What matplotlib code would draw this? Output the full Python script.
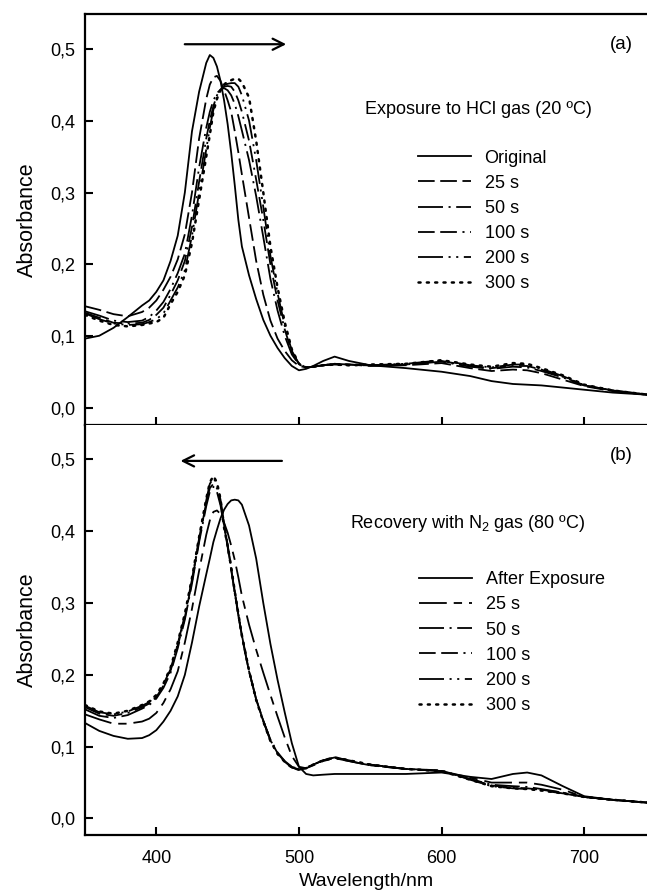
import matplotlib
matplotlib.use('Agg')
import matplotlib.pyplot as plt
from matplotlib.ticker import FuncFormatter

plt.rcParams['font.family'] = ['Liberation Sans', 'DejaVu Sans']
plt.rcParams['mathtext.fontset'] = 'custom'
plt.rcParams['mathtext.rm'] = 'Liberation Sans'
plt.rcParams['lines.scale_dashes'] = False

# wavelength grid (nm) shared by all spectra
wl = [350, 360, 370, 380, 390, 395, 400, 405, 410, 415,
      420, 425, 430, 435, 437.5, 440, 442.5, 445, 447.5, 450,
      452.5, 455, 457.5, 460, 465, 470, 475, 480, 485, 490,
      495, 500, 505, 510, 517, 525, 535, 550, 575, 600,
      620, 635, 650, 660, 670, 685, 700, 720, 745]

# (a) exposure to HCl
labels_a = ['Original', '25 s', '50 s', '100 s', '200 s', '300 s']
a_orig = [0.097, 0.101, 0.112, 0.127, 0.143, 0.150, 0.162, 0.178, 0.205, 0.240,
          0.300, 0.385, 0.440, 0.480, 0.491, 0.487, 0.475, 0.455, 0.428, 0.395,
          0.355, 0.310, 0.262, 0.225, 0.185, 0.152, 0.123, 0.101, 0.084, 0.070,
          0.059, 0.053, 0.055, 0.059, 0.066, 0.072, 0.066, 0.060, 0.056, 0.051,
          0.045, 0.038, 0.034, 0.033, 0.032, 0.029, 0.026, 0.022, 0.019]
a_25 = [0.142, 0.137, 0.131, 0.128, 0.134, 0.140, 0.150, 0.165, 0.183, 0.207,
        0.242, 0.300, 0.375, 0.430, 0.450, 0.460, 0.462, 0.455, 0.442, 0.428,
        0.412, 0.385, 0.356, 0.325, 0.265, 0.205, 0.158, 0.122, 0.097, 0.080,
        0.067, 0.059, 0.057, 0.058, 0.060, 0.062, 0.061, 0.059, 0.060, 0.063,
        0.056, 0.052, 0.054, 0.053, 0.049, 0.040, 0.031, 0.024, 0.019]
a_50 = [0.135, 0.129, 0.122, 0.120, 0.122, 0.127, 0.136, 0.148, 0.166, 0.188,
        0.215, 0.268, 0.335, 0.390, 0.412, 0.428, 0.438, 0.443, 0.445, 0.442,
        0.435, 0.423, 0.406, 0.386, 0.345, 0.295, 0.238, 0.180, 0.136, 0.101,
        0.075, 0.061, 0.057, 0.058, 0.060, 0.062, 0.061, 0.060, 0.061, 0.065,
        0.058, 0.055, 0.058, 0.057, 0.052, 0.043, 0.032, 0.025, 0.019]
a_100 = [0.133, 0.126, 0.119, 0.118, 0.119, 0.123, 0.130, 0.140, 0.158, 0.178,
         0.205, 0.252, 0.315, 0.375, 0.400, 0.420, 0.435, 0.443, 0.447, 0.448,
         0.447, 0.440, 0.428, 0.412, 0.372, 0.318, 0.262, 0.200, 0.150, 0.110,
         0.078, 0.062, 0.057, 0.058, 0.060, 0.062, 0.061, 0.060, 0.061, 0.066,
         0.059, 0.056, 0.059, 0.059, 0.054, 0.044, 0.032, 0.025, 0.019]
a_200 = [0.132, 0.124, 0.118, 0.116, 0.117, 0.120, 0.124, 0.132, 0.150, 0.168,
         0.192, 0.240, 0.300, 0.360, 0.390, 0.415, 0.432, 0.443, 0.449, 0.451,
         0.452, 0.452, 0.447, 0.435, 0.400, 0.345, 0.280, 0.212, 0.160, 0.115,
         0.080, 0.062, 0.057, 0.058, 0.060, 0.061, 0.060, 0.060, 0.062, 0.067,
         0.060, 0.057, 0.061, 0.061, 0.055, 0.045, 0.032, 0.025, 0.019]
a_300 = [0.130, 0.122, 0.116, 0.114, 0.116, 0.118, 0.120, 0.126, 0.145, 0.162,
         0.185, 0.230, 0.290, 0.350, 0.380, 0.412, 0.430, 0.442, 0.450, 0.454,
         0.456, 0.458, 0.458, 0.453, 0.432, 0.372, 0.300, 0.225, 0.168, 0.120,
         0.082, 0.062, 0.057, 0.058, 0.060, 0.061, 0.060, 0.061, 0.062, 0.067,
         0.061, 0.058, 0.063, 0.062, 0.056, 0.046, 0.033, 0.025, 0.019]

# (b) recovery with N2
labels_b = ['After Exposure', '25 s', '50 s', '100 s', '200 s', '300 s']
b_after = [0.133, 0.122, 0.115, 0.111, 0.112, 0.116, 0.123, 0.135, 0.150, 0.170,
           0.200, 0.245, 0.295, 0.340, 0.362, 0.385, 0.402, 0.418, 0.430, 0.438,
           0.443, 0.444, 0.443, 0.437, 0.408, 0.362, 0.300, 0.243, 0.193, 0.148,
           0.105, 0.072, 0.062, 0.060, 0.061, 0.062, 0.062, 0.062, 0.062, 0.064,
           0.058, 0.055, 0.062, 0.064, 0.060, 0.045, 0.031, 0.026, 0.022]
b_25 = [0.145, 0.138, 0.132, 0.132, 0.135, 0.139, 0.147, 0.161, 0.180, 0.205,
        0.245, 0.292, 0.345, 0.395, 0.415, 0.427, 0.429, 0.424, 0.412, 0.398,
        0.380, 0.360, 0.336, 0.310, 0.270, 0.235, 0.203, 0.172, 0.142, 0.113,
        0.087, 0.072, 0.070, 0.074, 0.080, 0.084, 0.080, 0.074, 0.069, 0.066,
        0.057, 0.050, 0.050, 0.050, 0.047, 0.040, 0.030, 0.026, 0.022]
b_50 = [0.152, 0.143, 0.140, 0.144, 0.153, 0.158, 0.167, 0.182, 0.203, 0.237,
        0.277, 0.327, 0.385, 0.435, 0.455, 0.462, 0.455, 0.436, 0.408, 0.378,
        0.346, 0.314, 0.283, 0.253, 0.205, 0.166, 0.136, 0.110, 0.092, 0.080,
        0.072, 0.069, 0.071, 0.075, 0.081, 0.084, 0.080, 0.074, 0.069, 0.066,
        0.055, 0.047, 0.045, 0.044, 0.041, 0.036, 0.030, 0.026, 0.022]
b_100 = [0.155, 0.146, 0.143, 0.147, 0.155, 0.160, 0.169, 0.185, 0.206, 0.240,
         0.280, 0.330, 0.388, 0.440, 0.460, 0.466, 0.460, 0.440, 0.410, 0.380,
         0.348, 0.315, 0.284, 0.254, 0.205, 0.166, 0.136, 0.109, 0.091, 0.079,
         0.071, 0.068, 0.070, 0.075, 0.081, 0.085, 0.081, 0.075, 0.069, 0.066,
         0.055, 0.046, 0.043, 0.042, 0.040, 0.036, 0.030, 0.026, 0.022]
b_200 = [0.157, 0.148, 0.145, 0.149, 0.157, 0.162, 0.171, 0.187, 0.208, 0.243,
         0.283, 0.333, 0.390, 0.443, 0.466, 0.474, 0.466, 0.444, 0.412, 0.381,
         0.349, 0.316, 0.285, 0.255, 0.206, 0.166, 0.136, 0.108, 0.090, 0.079,
         0.071, 0.068, 0.070, 0.075, 0.081, 0.085, 0.081, 0.075, 0.069, 0.067,
         0.054, 0.045, 0.042, 0.041, 0.039, 0.035, 0.030, 0.026, 0.022]
b_300 = [0.158, 0.149, 0.146, 0.150, 0.158, 0.163, 0.172, 0.188, 0.210, 0.245,
         0.285, 0.335, 0.392, 0.445, 0.468, 0.477, 0.468, 0.445, 0.405, 0.380,
         0.350, 0.316, 0.285, 0.255, 0.206, 0.165, 0.135, 0.108, 0.090, 0.079,
         0.071, 0.068, 0.070, 0.075, 0.081, 0.085, 0.081, 0.075, 0.069, 0.066,
         0.054, 0.045, 0.042, 0.041, 0.039, 0.035, 0.030, 0.026, 0.022]

yticks = [0.0, 0.1, 0.2, 0.3, 0.4, 0.5]
xticks = [400, 500, 600, 700]

estilos_a = ['-', (0, (12, 4)), (0, (18, 4, 1.5, 4)), (0, (12, 4, 12, 4, 1.5, 4)),
             (0, (18, 4, 1.5, 4, 1.5, 4)), (0, (1.5, 4.5))]
estilos_b = ['-', (0, (20, 5, 6, 5)), (0, (18, 4, 1.5, 4)), (0, (12, 4, 12, 4, 1.5, 4)),
             (0, (18, 4, 1.5, 4, 1.5, 4)), (0, (1.5, 4.5))]

virgula = FuncFormatter(lambda v, p: f'{v:.1f}'.replace('.', ','))


def painel(ax, series, labels, estilos, titulo, tpos, letra, seta, leg_pos):
    for y, lab, ls in zip(series, labels, estilos):
        lw = 1.8 if ls == estilos[-1] else 1.3
        ax.plot(wl, y, color='black', lw=lw, linestyle=ls, label=lab,
                dash_capstyle='round' if ls == estilos[-1] else 'butt')
    ax.set_xlim(350, 744)
    ax.set_ylim(-0.023, 0.548)
    ax.set_yticks(yticks)
    ax.set_xticks(xticks)
    ax.yaxis.set_major_formatter(virgula)
    ax.tick_params(direction='in', length=6, width=1.5, labelsize=13)
    ax.tick_params(axis='y', pad=7)
    ax.tick_params(axis='x', pad=11)
    ax.spines['right'].set_visible(False)
    for s in ['left', 'top', 'bottom']:
        ax.spines[s].set_linewidth(1.6)
    ax.set_ylabel('Absorbance', fontsize=15.5, labelpad=9)
    ax.text(tpos[0], tpos[1], titulo, fontsize=13, ha='left', va='center')
    ax.text(726, 0.505, letra, fontsize=13.5, ha='center', va='center')
    ax.annotate('', xy=seta[1], xytext=seta[0],
                arrowprops=dict(arrowstyle='->', lw=1.6, color='black', mutation_scale=20))
    ax.legend(loc='upper left', bbox_to_anchor=leg_pos, frameon=False, fontsize=13,
              handlelength=2.95, handletextpad=0.75, labelspacing=0.45,
              borderpad=0, borderaxespad=0)


fig = plt.figure(figsize=(6.47, 8.92), dpi=100)
ax1 = fig.add_axes([85 / 647, 1 - 425 / 892, 562 / 647, 411 / 892])
ax2 = fig.add_axes([85 / 647, 1 - 835 / 892, 562 / 647, 410 / 892])

painel(ax1, [a_orig, a_25, a_50, a_100, a_200, a_300], labels_a, estilos_a,
       'Exposure to HCl gas (20 ºC)', (546, 0.416), '(a)',
       ((418, 0.506), (493, 0.506)), (0.592, 0.670))
painel(ax2, [b_after, b_25, b_50, b_100, b_200, b_300], labels_b, estilos_b,
       'Recovery with N$_2$ gas (80 ºC)', (536, 0.411), '(b)',
       ((490, 0.498), (415, 0.498)), (0.594, 0.643))

ax1.tick_params(labelbottom=False)
ax2.spines['top'].set_visible(False)
ax2.set_xlabel('Wavelength/nm', fontsize=14)

fig.savefig('out.png', dpi=100)
